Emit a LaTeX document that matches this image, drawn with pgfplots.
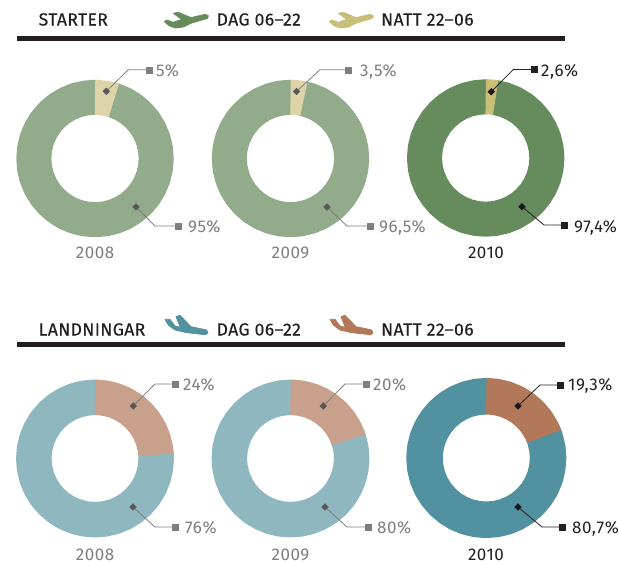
\documentclass[border=0pt]{standalone}
\usepackage{pgfplots}
\pgfplotsset{compat=1.18}
\usepackage{fontspec}
\setmainfont{Fira Sans}
\newfontfamily\hdfont{Fira Sans}[LetterSpace=2.5,FakeBold=0.25]
\newfontfamily\pcfont{Fira Sans}[LetterSpace=3.2]
\definecolor{txt}{HTML}{231F20}
\definecolor{gry}{HTML}{7F7D7D}
\definecolor{gA}{HTML}{92AB8A}
\definecolor{gB}{HTML}{DDD5A9}
\definecolor{gC}{HTML}{668B5C}
\definecolor{gD}{HTML}{C9BE78}
\definecolor{tA}{HTML}{8FB7BF}
\definecolor{tB}{HTML}{C9A08C}
\definecolor{tC}{HTML}{52919F}
\definecolor{tD}{HTML}{B2785A}
% ring wedge: cx, cy, radius, thickness, colour, list of positions in percent, clockwise from the top
\newcommand\ring[6]{\addplot[draw=#5,line width=#4pt,no markers,line join=round] table[header=false,row sep=\\,
  x expr={#1+#3*cos(90-3.6*\thisrowno{0})},y expr={#2-#3*sin(90-3.6*\thisrowno{0})}]{#6};}
% plane shape traced from the 3x crop: dx, dy, colour, points
\newcommand\plane[4]{\addplot[fill=#3,draw=#3,line width=0.8pt,line join=round,no markers] table[header=false,row sep=\\,
  x expr={#1+\thisrowno{0}/3},y expr={#2+\thisrowno{1}/3}]{#4}--cycle;}
% leader: colour, x0 y0 x1 y1 x2 y2 (inner diamond, knee, outer square)
\newcommand\leader[7]{%
  \addplot[draw=#1,line width=0.8pt,no markers] coordinates {(#2,#3)(#4,#5)(#6,#7)};
  \addplot[only marks,mark=square*,mark size=2.4pt,mark options={rotate=45},color=#1!70!black] coordinates {(#2,#3)};
  \addplot[only marks,mark=square*,mark size=3pt,color=#1] coordinates {(#6,#7)};}
\begin{document}
\begin{tikzpicture}
\path[use as bounding box] (0,0) rectangle (619pt,565pt);
\begin{axis}[at={(0,0)},anchor=south west,scale only axis,width=619pt,height=565pt,xmin=0,xmax=619,ymin=0,ymax=565,y dir=reverse,hide axis,clip=false]
% --- rules
\addplot[draw=txt,line width=5pt,no markers] coordinates {(16.5,38)(565,38)};
\addplot[draw=txt,line width=5pt,no markers] coordinates {(16.5,344)(565,344)};
% --- planes
\plane{155}{5}{gC}{55 25\\70 22\\108 38\\150 28\\160 32\\158 40\\110 54\\85 66\\60 69\\42 62\\28 50\\35 45\\55 52\\80 43\\}
\plane{320}{5}{gD}{55 25\\70 22\\108 38\\150 28\\160 32\\158 40\\110 54\\85 66\\60 69\\42 62\\28 50\\35 45\\55 52\\80 43\\}
\plane{155}{310}{tC}{30 28\\45 28\\60 48\\76 52\\63 20\\75 16\\108 50\\155 60\\159 70\\150 74\\95 68\\60 60\\40 45\\}
\plane{320}{310}{tD}{30 28\\45 28\\60 48\\76 52\\63 20\\75 16\\108 50\\155 60\\159 70\\150 74\\95 68\\60 60\\40 45\\}
% --- 2008 starter 95 / 5
\ring{95}{158.5}{61.2}{35}{gA}{4.6\\5\\7.5\\10\\12.5\\15\\17.5\\20\\22.5\\25\\27.5\\30\\32.5\\35\\37.5\\40\\42.5\\45\\47.5\\50\\52.5\\55\\57.5\\60\\62.5\\65\\67.5\\70\\72.5\\75\\77.5\\80\\82.5\\85\\87.5\\90\\92.5\\95\\97.5\\100\\100.4\\}
\ring{95}{158.5}{61.2}{35}{gB}{0\\0.4\\2.5\\4.6\\5\\}
% --- 2009 starter 96.5 / 3.5
\ring{290.5}{158.5}{61.2}{35}{gA}{3.1\\3.5\\5\\7.5\\10\\12.5\\15\\17.5\\20\\22.5\\25\\27.5\\30\\32.5\\35\\37.5\\40\\42.5\\45\\47.5\\50\\52.5\\55\\57.5\\60\\62.5\\65\\67.5\\70\\72.5\\75\\77.5\\80\\82.5\\85\\87.5\\90\\92.5\\95\\97.5\\100\\100.4\\}
\ring{290.5}{158.5}{61.2}{35}{gB}{0\\0.4\\1.75\\3.1\\3.5\\}
% --- 2010 starter 97.4 / 2.6
\ring{485.7}{158}{61.2}{35}{gC}{2.2\\2.6\\5\\7.5\\10\\12.5\\15\\17.5\\20\\22.5\\25\\27.5\\30\\32.5\\35\\37.5\\40\\42.5\\45\\47.5\\50\\52.5\\55\\57.5\\60\\62.5\\65\\67.5\\70\\72.5\\75\\77.5\\80\\82.5\\85\\87.5\\90\\92.5\\95\\97.5\\100\\100.4\\}
\ring{485.7}{158}{61.2}{35}{gD}{0\\0.4\\1.3\\2.2\\2.6\\}
% --- 2008 landing 76 / 24
\ring{95}{458.5}{61.2}{35.5}{tA}{23.6\\24\\25\\27.5\\30\\32.5\\35\\37.5\\40\\42.5\\45\\47.5\\50\\52.5\\55\\57.5\\60\\62.5\\65\\67.5\\70\\72.5\\75\\77.5\\80\\82.5\\85\\87.5\\90\\92.5\\95\\97.5\\100\\100.4\\}
\ring{95}{458.5}{61.2}{35.5}{tB}{0\\0.4\\2.5\\5\\7.5\\10\\12.5\\15\\17.5\\20\\22.5\\23.6\\24\\}
% --- 2009 landing 80 / 20
\ring{290.5}{458.5}{61.2}{35.5}{tA}{19.6\\20\\22.5\\25\\27.5\\30\\32.5\\35\\37.5\\40\\42.5\\45\\47.5\\50\\52.5\\55\\57.5\\60\\62.5\\65\\67.5\\70\\72.5\\75\\77.5\\80\\82.5\\85\\87.5\\90\\92.5\\95\\97.5\\100\\100.4\\}
\ring{290.5}{458.5}{61.2}{35.5}{tB}{0\\0.4\\2.5\\5\\7.5\\10\\12.5\\15\\17.5\\19.6\\20\\}
% --- 2010 landing 80.7 / 19.3
\ring{486.3}{458}{61.8}{36.5}{tC}{18.9\\19.3\\20\\22.5\\25\\27.5\\30\\32.5\\35\\37.5\\40\\42.5\\45\\47.5\\50\\52.5\\55\\57.5\\60\\62.5\\65\\67.5\\70\\72.5\\75\\77.5\\80\\82.5\\85\\87.5\\90\\92.5\\95\\97.5\\100\\100.4\\}
\ring{486.3}{458}{61.8}{36.5}{tD}{0\\0.4\\2.5\\5\\7.5\\10\\12.5\\15\\17.5\\18.9\\19.3\\}
% --- leaders
\leader{gry}{106.3}{91.3}{128.3}{69.7}{149}{69.7}
\leader{gry}{136}{207}{155}{226}{178}{226}
\leader{gry}{296.5}{91.5}{320}{69.7}{348}{69.7}
\leader{gry}{327}{207}{347}{226}{370}{226}
\leader{txt}{491.3}{91.7}{513.3}{69.5}{534}{69.5}
\leader{txt}{522}{206.7}{544}{225}{564}{225}
\leader{gry}{133.3}{406}{155}{384}{175}{384}
\leader{gry}{133}{507}{155}{527}{175}{527}
\leader{gry}{323.3}{406}{345}{384}{365.7}{384}
\leader{gry}{325}{507}{347}{527}{368}{527}
\leader{txt}{518}{406}{540}{385}{560}{385}
\leader{txt}{518}{507}{542}{527}{562}{527}
% --- text
\tikzset{hd/.style={anchor=base west,inner sep=0pt,text=txt,font=\hdfont\fontsize{17.5}{17.5}\selectfont},
  pc/.style={anchor=base west,inner sep=0pt,font=\pcfont\fontsize{17}{17}\selectfont},
  yr/.style={anchor=base,inner sep=0pt,font=\pcfont\fontsize{17}{17}\selectfont}}
\node[hd] at (axis cs:38.5,25.5) {STARTER};
\node[hd] at (axis cs:216.5,25.5) {DAG 06–22};
\node[hd] at (axis cs:381,25.5) {NATT 22–06};
\node[hd] at (axis cs:38.5,335.5) {LANDNINGAR};
\node[hd] at (axis cs:216.5,335.5) {DAG 06–22};
\node[hd] at (axis cs:381,335.5) {NATT 22–06};
\node[pc,text=gry] at (axis cs:156,76) {5\%};
\node[pc,text=gry] at (axis cs:188,232.5) {95\%};
\node[pc,text=gry] at (axis cs:360,76) {3,5\%};
\node[pc,text=gry] at (axis cs:379,232.5) {96,5\%};
\node[pc,text=txt] at (axis cs:541,76) {2,6\%};
\node[pc,text=txt] at (axis cs:574,232.5) {97,4\%};
\node[pc,text=gry] at (axis cs:183,390.5) {24\%};
\node[pc,text=gry] at (axis cs:185,533.5) {76\%};
\node[pc,text=gry] at (axis cs:373,390.5) {20\%};
\node[pc,text=gry] at (axis cs:377,533.5) {80\%};
\node[pc,text=txt] at (axis cs:568,390.5) {19,3\%};
\node[pc,text=txt] at (axis cs:572,533.5) {80,7\%};
\node[yr,text=gry] at (axis cs:95,258) {2008};
\node[yr,text=gry] at (axis cs:290.5,258) {2009};
\node[yr,text=txt] at (axis cs:486,258) {2010};
\node[yr,text=gry] at (axis cs:95,560) {2008};
\node[yr,text=gry] at (axis cs:290.5,560) {2009};
\node[yr,text=txt] at (axis cs:486,560) {2010};
\end{axis}
\end{tikzpicture}
\end{document}
